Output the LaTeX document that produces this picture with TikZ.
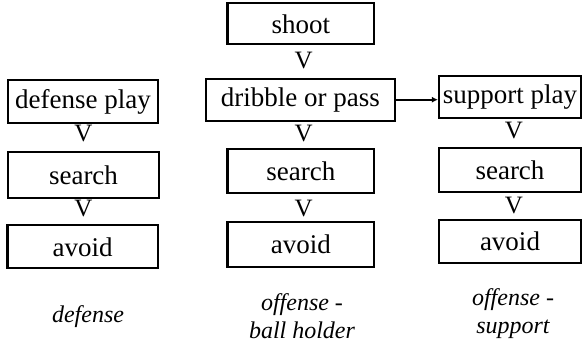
\documentclass[tikz,border=0pt]{standalone}
\usepackage{fontspec}
\setmainfont{Liberation Serif}
\usetikzlibrary{arrows.meta}
\begin{document}
\begin{tikzpicture}[x=1pt,y=-1pt,
  box/.style={draw, line width=2.2pt, rectangle, inner sep=0pt,
    font=\fontsize{27}{30}\selectfont},
  vmark/.style={inner sep=0pt, font=\fontsize{25}{27}\selectfont},
  caption/.style={inner sep=0pt, align=center,
    font=\fontsize{24}{28}\selectfont\itshape}]
\useasboundingbox (0,0) rectangle (582,347);

% defense column
\node[box, minimum width=150pt, minimum height=43pt] (dplay) at (83,101.7) {defense play};
\node[box, minimum width=151pt, minimum height=46pt] (dsearch) at (83.5,175) {search};
\node[box, minimum width=150.6pt, minimum height=43pt] (davoid) at (82.7,246.8) {avoid};
\node[vmark] (dv1) at (83.5,134) {V};
\node[vmark] (dv2) at (83.5,209) {V};
\node[caption] (dcap) at (88,317) {defense};

% ball holder column
\node[box, minimum width=146.5pt, minimum height=41pt] (shoot) at (300.8,23.8) {shoot};
\node[box, minimum width=188.6pt, minimum height=42pt] (dribble) at (300.3,99.7) {dribble or pass};
\node[box, minimum width=146.5pt, minimum height=44pt] (msearch) at (300.8,171.3) {search};
\node[box, minimum width=146.5pt, minimum height=45pt] (mavoid) at (300.8,244.2) {avoid};
\node[vmark] (mv0) at (303.6,61) {V};
\node[vmark] (mv1) at (303.6,134) {V};
\node[vmark] (mv2) at (303.6,209) {V};
\node[caption] (mcap) at (302,316) {offense -\\ ball holder};

% support column
\node[box, minimum width=142pt, minimum height=42pt] (splay) at (510,97) {support play};
\node[box, minimum width=142pt, minimum height=44pt] (ssearch) at (510,170) {search};
\node[box, minimum width=142pt, minimum height=43pt] (savoid) at (510,241.7) {avoid};
\node[vmark] (sv1) at (514,131) {V};
\node[vmark] (sv2) at (514,206) {V};
\node[caption] (scap) at (513,314) {offense -\\ support};

% hand-over from ball holder to support
\draw[line width=1.8pt, -{Latex[length=6pt,width=6pt]}]
  (dribble.east) -- (dribble.east -| splay.west);
\end{tikzpicture}
\end{document}
